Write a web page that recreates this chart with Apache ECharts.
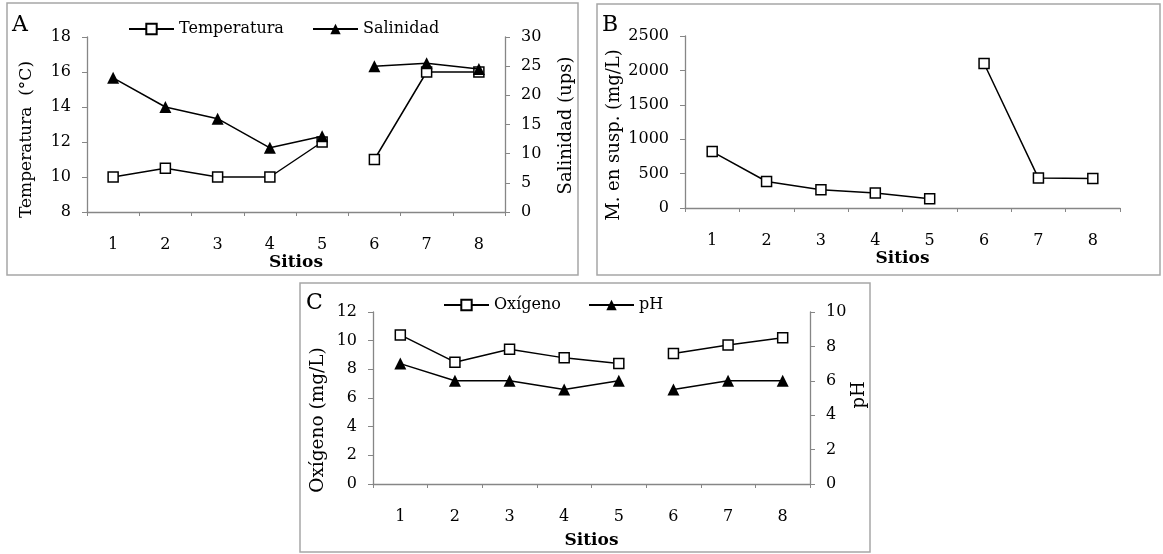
<!DOCTYPE html>
<html><head><meta charset="utf-8">
<script src="https://cdn.jsdelivr.net/npm/echarts@6/dist/echarts.min.js"></script>
<style>html,body{margin:0;padding:0;background:#fff}#c{width:1163px;height:554px}</style>
</head><body><div id="c"></div>
<script>
const sitios = ['1','2','3','4','5','6','7','8'];
// Panel A
const temperatura = [10, 10.5, 10, 10, 12, 11, 16, 16];
const salinidad = [23, 18, 16, 11, 13, 25, 25.5, 24.5];
// Panel B
const materiaSusp = [820, 385, 265, 217, 135, 2100, 435, 430];
// Panel C
const oxigeno = [10.4, 8.5, 9.4, 8.8, 8.4, 9.1, 9.7, 10.2];
const ph = [7, 6, 6, 5.5, 6, 5.5, 6, 6];

function part(arr, from, to){ return arr.map((v,i)=> (i>=from && i<=to) ? v : '-'); }

const FONT = 'DejaVu Serif';
const AX = '#868686';
const txt = {fontFamily: FONT, fontSize: 16, color: '#000'};

function xAx(gi, gap){
  return {type:'category', gridIndex:gi, data:sitios, boundaryGap:true,
    name:'Sitios', nameLocation:'middle', nameGap:gap,
    nameTextStyle:{fontFamily:FONT, fontSize:17, fontWeight:'bold', color:'#000'},
    axisLine:{lineStyle:{color:AX, width:1.3}}, axisTick:{show:true, length:4, lineStyle:{color:AX}},
    axisLabel:Object.assign({margin:25}, txt), splitLine:{show:false}};
}
function yAx(gi, pos, min, max, interval, name, gap, fs, shift){
  return {type:'value', gridIndex:gi, position:pos, min:min, max:max, interval:interval,
    name:name, nameLocation:'middle', nameGap:gap,
    nameTextStyle:{fontFamily:FONT, fontSize:fs, color:'#000', padding:[0, Math.max(0,2*shift), 0, Math.max(0,-2*shift)]},
    axisLine:{show:true, lineStyle:{color:AX, width:1.3}}, axisTick:{show:true, length:5, lineStyle:{color:AX}},
    axisLabel:Object.assign({margin:16, formatter:v=>String(v)}, txt), splitLine:{show:false}};
}
const sq = {symbol:'rect', symbolSize:10, itemStyle:{color:'#fff', borderColor:'#000', borderWidth:1.5}, lineStyle:{color:'#000', width:1.5}};
const tri = {symbol:'triangle', symbolSize:12, itemStyle:{color:'#000', borderColor:'#000', borderWidth:0}, lineStyle:{color:'#000', width:1.5}};
function ser(name, style, xi, yi, arr, from, to){
  return Object.assign({type:'line', name:name, xAxisIndex:xi, yAxisIndex:yi, data:part(arr,from,to), connectNulls:false, showSymbol:true, animation:false, z:yi}, JSON.parse(JSON.stringify(style)));
}
function leg(name, left, top){
  return {data:[name], left:left, top:top, padding:0, itemWidth:45, itemHeight:13, itemGap:5,
    textStyle:{fontFamily:FONT, fontSize:16, color:'#000'}, selectedMode:false};
}

const chart = echarts.init(document.getElementById('c'), null, {renderer:'canvas'});
chart.setOption({
  animation:false,
  backgroundColor:'#fff',
  grid:[
    {left:87, top:37, width:418, height:175},
    {left:685, top:36, width:435, height:172},
    {left:373, top:312, width:437, height:172}
  ],
  legend:[
    leg('Temperatura', 128, 21),
    leg('Salinidad', 312, 21),
    leg('Oxígeno', 443, 297),
    leg('pH', 588, 297)
  ],
  xAxis:[xAx(0, 42), xAx(1, 42), xAx(2, 48)],
  yAxis:[
    yAx(0,'left',8,18,2,'Temperatura  (°C)',52,17,15),
    yAx(0,'right',0,30,5,'Salinidad (ups)',52,18,1),
    yAx(1,'left',0,2500,500,'M. en susp. (mg/L)',62,18,13),
    yAx(2,'left',0,12,2,'Oxígeno (mg/L)',45,18.5,22),
    yAx(2,'right',0,10,2,'pH',40,18,-3)
  ],
  series:[
    ser('Temperatura', sq, 0, 0, temperatura, 0, 4),
    ser('Temperatura', sq, 0, 0, temperatura, 5, 7),
    ser('Salinidad', tri, 0, 1, salinidad, 0, 4),
    ser('Salinidad', tri, 0, 1, salinidad, 5, 7),
    ser('M. en susp.', sq, 1, 2, materiaSusp, 0, 4),
    ser('M. en susp.', sq, 1, 2, materiaSusp, 5, 7),
    ser('Oxígeno', sq, 2, 3, oxigeno, 0, 4),
    ser('Oxígeno', sq, 2, 3, oxigeno, 5, 7),
    ser('pH', tri, 2, 4, ph, 0, 4),
    ser('pH', tri, 2, 4, ph, 5, 7)
  ],
  graphic:[
    {type:'rect', shape:{x:7, y:3, width:571, height:272}, style:{fill:null, stroke:'#a6a6a6', lineWidth:1.5}, silent:true},
    {type:'rect', shape:{x:597, y:4, width:563, height:271}, style:{fill:null, stroke:'#a6a6a6', lineWidth:1.5}, silent:true},
    {type:'rect', shape:{x:300, y:283, width:570, height:269}, style:{fill:null, stroke:'#a6a6a6', lineWidth:1.5}, silent:true},
    {type:'text', left:12, top:14, style:{text:'A', fontFamily:FONT, fontSize:22, fill:'#000'}},
    {type:'text', left:602, top:14, style:{text:'B', fontFamily:FONT, fontSize:22, fill:'#000'}},
    {type:'text', left:306, top:292, style:{text:'C', fontFamily:FONT, fontSize:22, fill:'#000'}}
  ]
});
</script></body></html>
